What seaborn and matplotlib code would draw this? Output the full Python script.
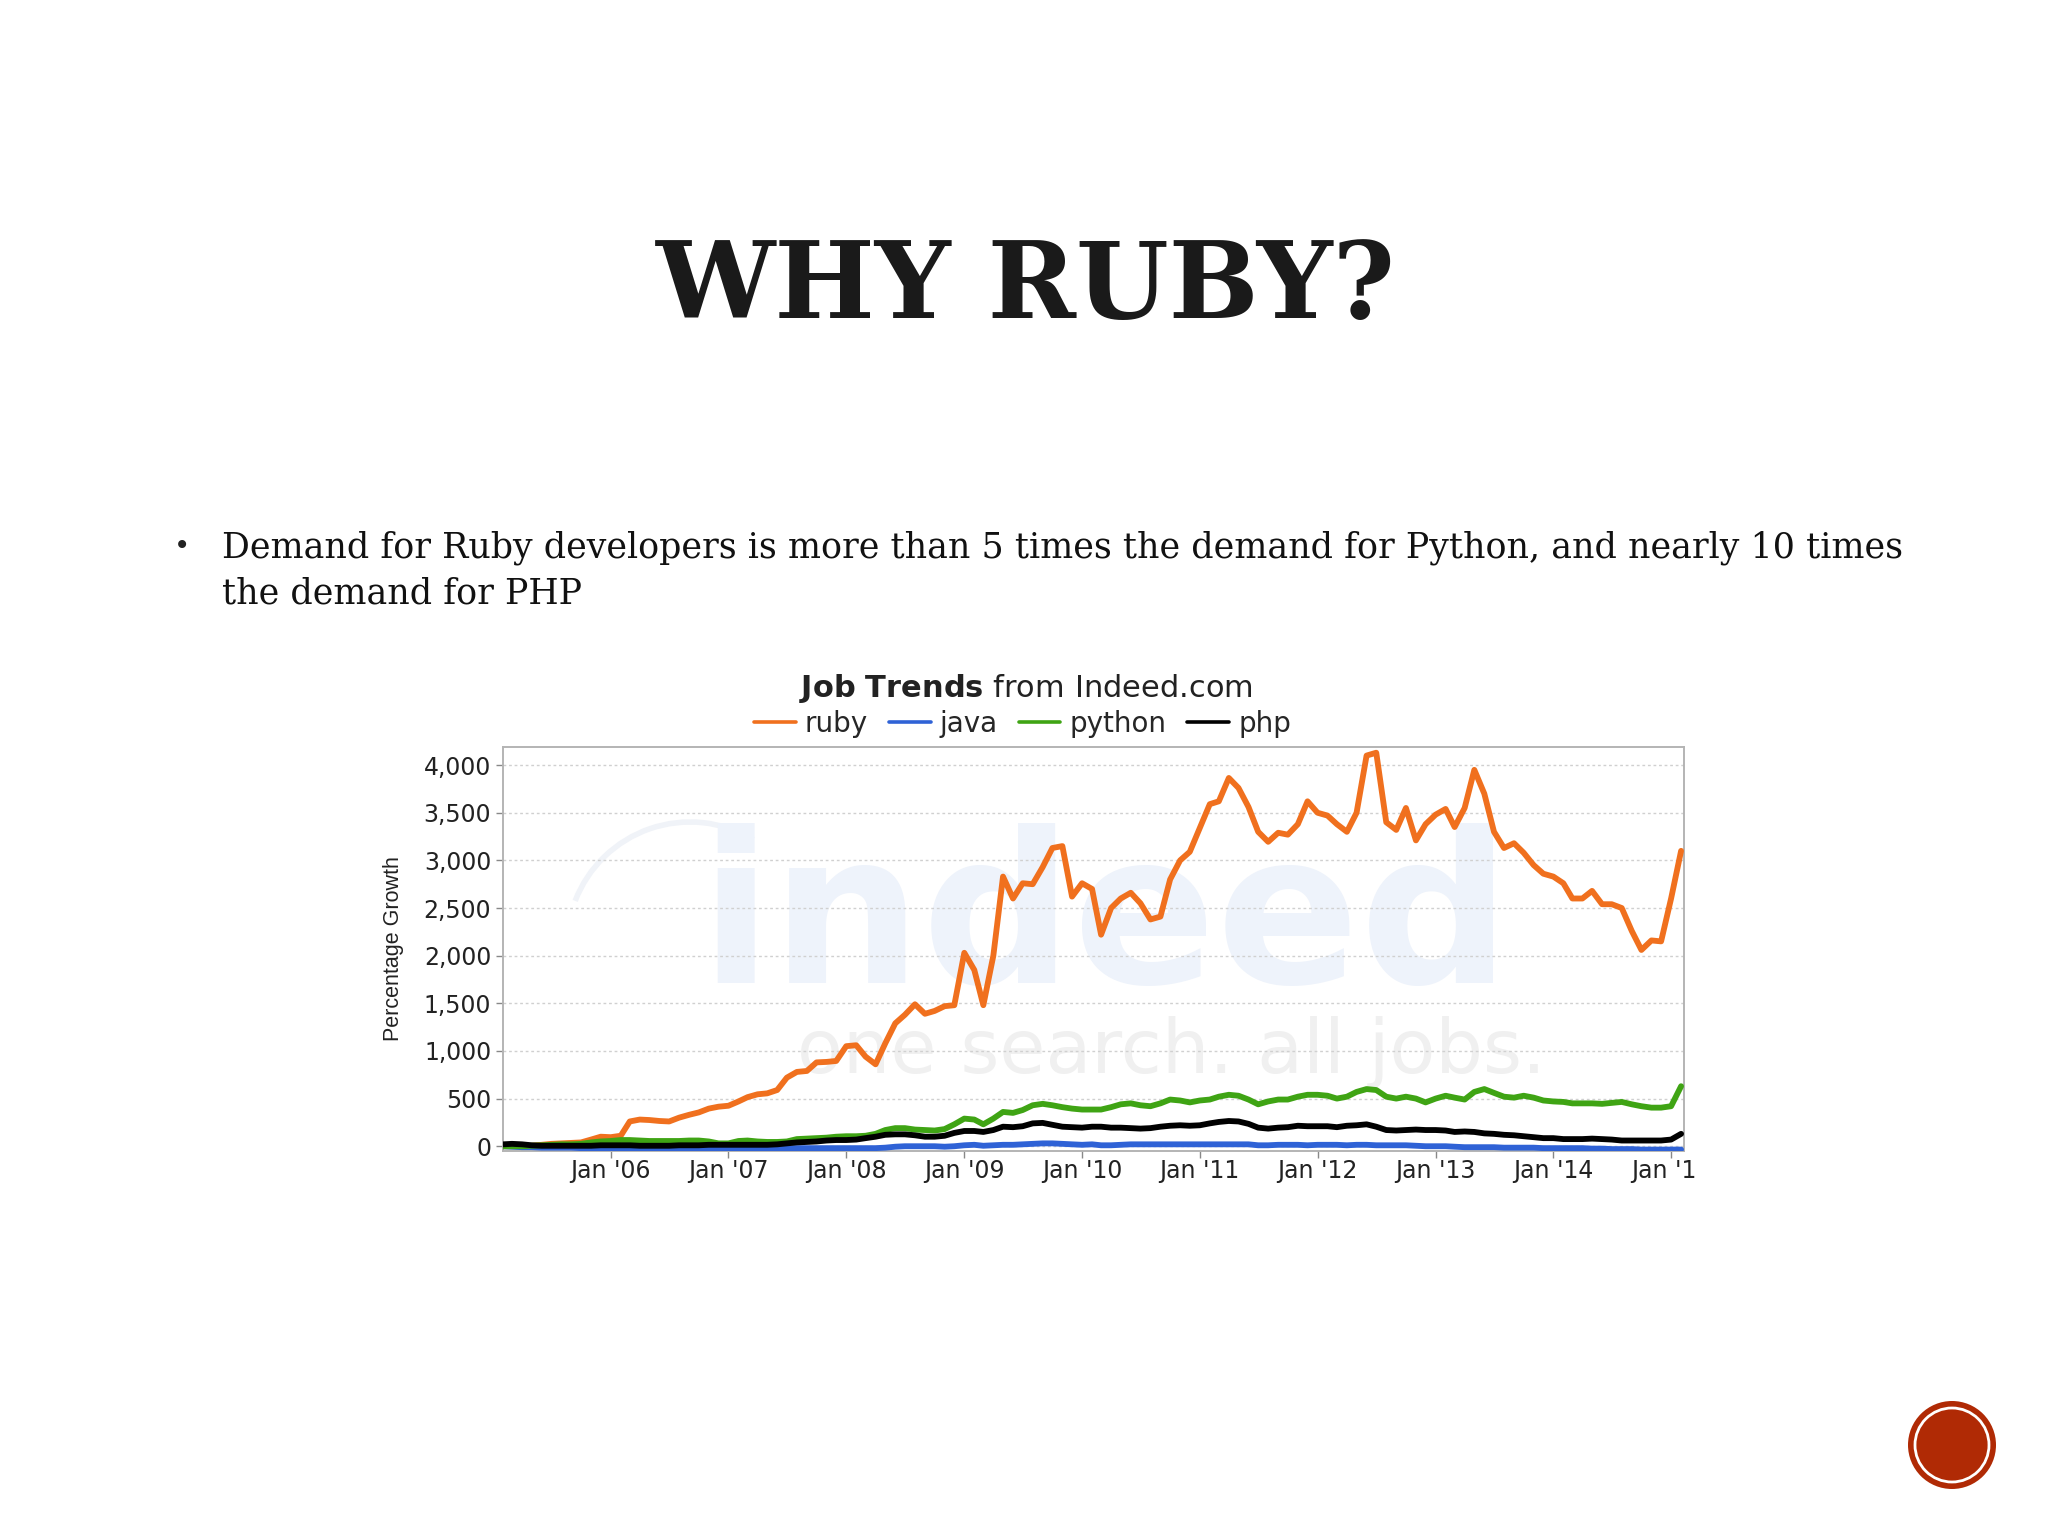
import numpy as np
import pandas as pd
import seaborn as sns
import matplotlib.pyplot as plt
from matplotlib.patches import Arc, Circle
from matplotlib.transforms import ScaledTranslation

# monthly values, Feb 2005 to Feb 2015
months = pd.date_range('2005-02-01', '2015-02-01', freq='MS')

ruby = [0, 0, 0, 5, 15, 25, 30, 35, 40, 70, 100,
        95, 110, 260, 280, 275, 265, 260, 300, 330, 355, 395, 415,
        425, 470, 515, 545, 555, 590, 720, 780, 790, 880, 885, 895,
        1050, 1060, 940, 860, 1080, 1290, 1380, 1490, 1390, 1420, 1470, 1480,
        2030, 1850, 1480, 2000, 2830, 2600, 2760, 2750, 2930, 3130, 3150, 2620,
        2760, 2700, 2220, 2500, 2600, 2660, 2550, 2380, 2410, 2800, 3000, 3090,
        3340, 3590, 3620, 3865, 3760, 3560, 3300, 3195, 3290, 3270, 3380, 3620,
        3500, 3470, 3380, 3300, 3500, 4100, 4130, 3400, 3320, 3550, 3210, 3380,
        3480, 3540, 3350, 3550, 3950, 3700, 3300, 3130, 3180, 3080, 2950, 2860,
        2830, 2760, 2600, 2600, 2680, 2540, 2540, 2500, 2260, 2060, 2160, 2150,
        2600, 3100]

java = [0, -5, -10, -10, -15, -15, -15, -15, -20, -20, -20,
        -20, -20, -20, -20, -20, -20, -20, -20, -20, -20, -20, -20,
        -20, -20, -20, -20, -20, -20, -20, -20, -20, -20, -20, -20,
        -20, -20, -20, -20, -15, -5, 0, 0, 0, 0, -5, 0,
        10, 15, 5, 10, 15, 15, 20, 25, 30, 30, 25, 20,
        15, 20, 10, 10, 15, 20, 20, 20, 20, 20, 20, 20,
        20, 20, 20, 20, 20, 20, 10, 10, 15, 15, 15, 10,
        15, 15, 15, 10, 15, 15, 10, 10, 10, 10, 5, 0,
        0, 0, -5, -10, -10, -10, -10, -15, -15, -15, -15, -20,
        -20, -20, -20, -20, -25, -25, -30, -30, -30, -35, -35, -35,
        -35, -35]

python = [0, 0, 0, 5, 10, 15, 20, 20, 25, 40, 50,
          55, 65, 65, 60, 55, 55, 55, 55, 60, 60, 50, 30,
          30, 55, 60, 50, 45, 45, 50, 75, 80, 85, 90, 100,
          105, 105, 110, 130, 170, 190, 190, 175, 170, 165, 180, 230,
          290, 280, 230, 290, 360, 350, 380, 430, 445, 430, 410, 395,
          385, 385, 385, 410, 440, 450, 430, 420, 450, 490, 480, 460,
          480, 490, 520, 540, 530, 490, 440, 470, 490, 490, 520, 540,
          540, 530, 500, 520, 570, 600, 590, 520, 500, 520, 500, 460,
          500, 530, 510, 490, 570, 600, 560, 520, 510, 530, 510, 480,
          470, 465, 450, 450, 450, 445, 455, 465, 440, 420, 405, 405,
          420, 630]

php = [20, 25, 20, 10, 5, 5, 5, 5, 5, 5, 10,
       10, 10, 10, 5, 5, 5, 5, 10, 10, 10, 15, 15,
       15, 15, 15, 15, 15, 20, 30, 40, 45, 50, 60, 65,
       65, 70, 85, 100, 120, 125, 125, 115, 100, 100, 110, 140,
       160, 160, 150, 170, 205, 200, 210, 240, 245, 225, 205, 200,
       195, 205, 205, 195, 195, 190, 185, 190, 205, 215, 220, 215,
       220, 240, 255, 265, 260, 235, 195, 185, 195, 200, 215, 210,
       210, 210, 200, 215, 220, 230, 205, 170, 165, 170, 175, 170,
       170, 165, 150, 155, 150, 135, 130, 120, 115, 105, 95, 85,
       85, 75, 75, 75, 80, 75, 70, 60, 60, 60, 60, 60,
       70, 130]

series_names = ['ruby', 'java', 'python', 'php']
series_colors = ['#f0701e', '#2f62d6', '#3fa414', '#000000']
y_ticks = [0, 500, 1000, 1500, 2000, 2500, 3000, 3500, 4000]
x_tick_years = list(range(2006, 2016))
x_tick_labels = ["Jan '06", "Jan '07", "Jan '08", "Jan '09", "Jan '10",
                 "Jan '11", "Jan '12", "Jan '13", "Jan '14", "Jan '1"]

W, H = 2048, 1536

df = pd.DataFrame({'month': months, 'ruby': ruby, 'java': java, 'python': python, 'php': php})
long_df = df.melt(id_vars='month', var_name='term', value_name='growth')

sns.set_style('white')
fig = plt.figure(figsize=(W / 100, H / 100), dpi=100, facecolor='white')

# slide text
serif = 'DejaVu Serif'
fig.text(1026 / W, 1 - 288 / H, 'WHY RUBY?', family=serif, fontweight='bold', fontsize=76.5,
         ha='center', va='center', color='#1a1a1a')
fig.text(174 / W, 1 - 548 / H, '•', family=serif, fontsize=20, ha='left', va='center', color='#222222')
fig.text(222 / W, 1 - 548 / H, 'Demand for Ruby developers is more than 5 times the demand for Python, and nearly 10 times',
         family=serif, fontsize=25.15, ha='left', va='center', color='#111111')
fig.text(222 / W, 1 - 594 / H, 'the demand for PHP', family=serif, fontsize=25.15, ha='left', va='center', color='#111111')

# corner badge and the swoosh of the logo behind the chart
overlay = fig.add_axes([0, 0, 1, 1], zorder=-1)
overlay.set_xlim(0, W)
overlay.set_ylim(H, 0)
overlay.axis('off')
overlay.add_patch(Circle((1952, 1445), 44, color='#b02a05', lw=0))
overlay.add_patch(Circle((1952, 1445), 37, fill=False, ec='white', lw=2))
overlay.add_patch(Arc((690, 945), 246, 246, theta1=201, theta2=301, color='#f0f3f8', lw=4))

# chart
ax = fig.add_axes([503 / W, 1 - 1151 / H, (1684 - 503) / W, (1151 - 747) / H])
ax.patch.set_alpha(0)

ax.text(0.51, 0.56, 'indeed', transform=ax.transAxes, fontsize=152, fontweight='bold', color='#eef3fb',
        ha='center', va='center', clip_on=True, zorder=0)
ax.text(0.566, 0.245, 'one search. all jobs.', transform=ax.transAxes, fontsize=54, color='#f0f0f0',
        ha='center', va='center', clip_on=True, zorder=0)

sns.lineplot(data=long_df, x='month', y='growth', hue='term', hue_order=series_names,
             palette=series_colors, linewidth=4.2, ax=ax, zorder=3)

ax.set_xlim(pd.Timestamp('2005-02-01'), pd.Timestamp('2015-02-10'))
ax.set_ylim(-50, 4190)
ax.set_yticks(y_ticks)
ax.set_yticklabels([f'{v:,}' for v in y_ticks])
ax.set_xticks([pd.Timestamp(f'{y}-01-01') for y in x_tick_years])
ax.set_xticklabels(x_tick_labels)
ax.tick_params(axis='both', length=5, width=1, color='#888888', labelsize=17, labelcolor='#222222', bottom=True, left=True)
ax.tick_params(axis='x', pad=1)
ax.set_xlabel('')
ax.set_ylabel('Percentage Growth', family='Liberation Sans', fontsize=15.5, color='#222222', labelpad=14)
ax.grid(axis='y', color='#d0d0d0', linestyle=(0, (2, 2)), linewidth=1)
ax.set_axisbelow(True)
for side in ax.spines:
    ax.spines[side].set_color('#b4b4b4')
    ax.spines[side].set_linewidth(1.4)

# the last label runs off the picture in the source
last = ax.get_xticklabels()[-1]
last.set_ha('left')
last.set_transform(last.get_transform() + ScaledTranslation(-40 / 100, 0, fig.dpi_scale_trans))

leg = ax.legend(title=None, ncols=4, frameon=False, loc='lower center', bbox_to_anchor=(0.44, 0.992),
                fontsize=20, columnspacing=0.75, handlelength=1.5, handletextpad=0.33, borderaxespad=0.05)
for line in leg.get_lines():
    line.set_linewidth(2.6)

fig.text(1026 / W, 1 - 689 / H, r'$\bf{Job\ Trends}$ from Indeed.com', fontsize=22, ha='center', va='center', color='#222222')

fig.savefig('out.png', dpi=100)
